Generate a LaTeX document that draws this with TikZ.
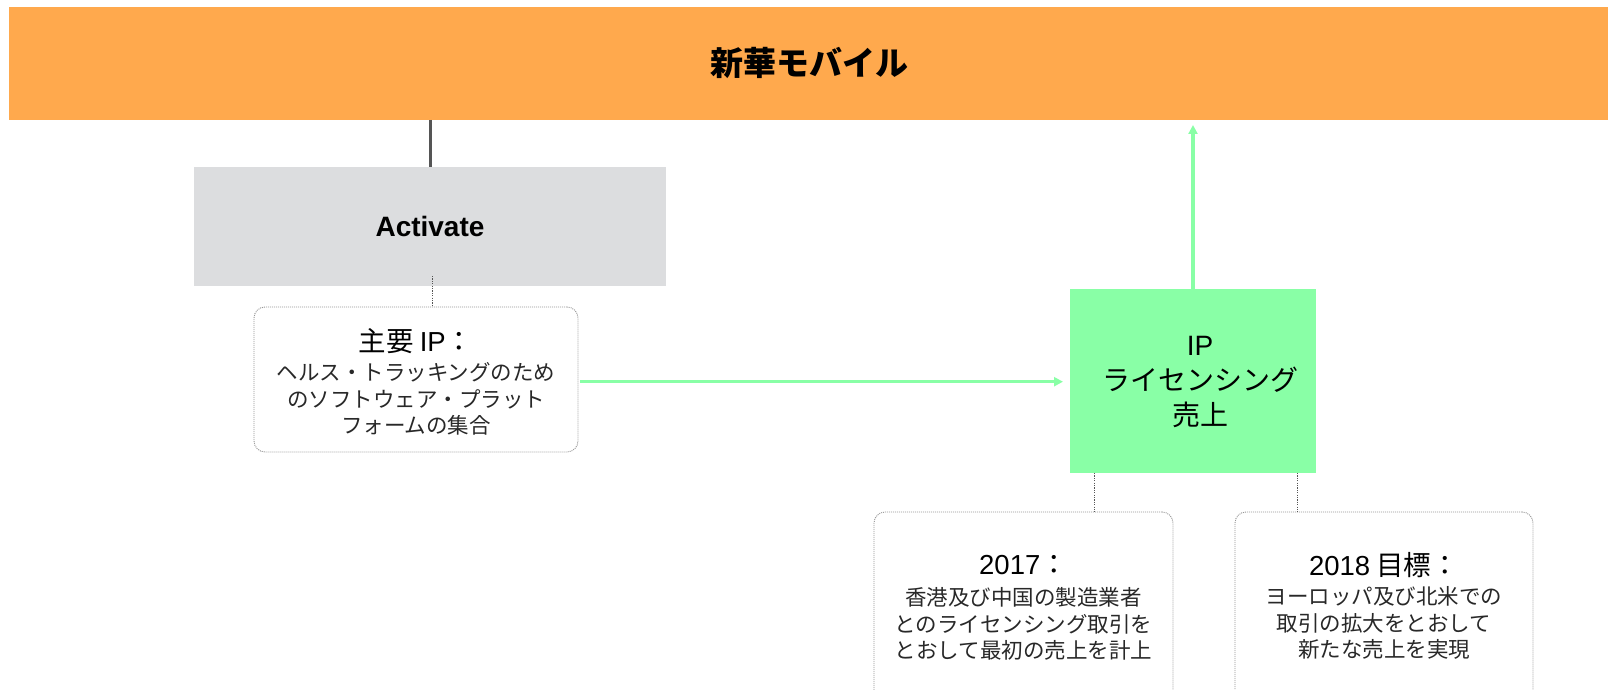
\documentclass[tikz,border=0pt]{standalone}
\usepackage{fontspec}
\setmainfont{Liberation Sans}
\newfontfamily\jp{Noto Sans CJK JP}
\usetikzlibrary{arrows.meta}
\definecolor{orangebar}{RGB}{255,169,77}
\definecolor{grayfill}{RGB}{220,221,223}
\definecolor{greenc}{RGB}{137,255,166}
\definecolor{bordergray}{RGB}{150,150,150}
\definecolor{textgray}{RGB}{40,40,40}
\definecolor{linegray}{RGB}{85,85,85}
\newcommand{\lat}[1]{{\rmfamily #1}}
\begin{document}
\begin{tikzpicture}[x=1pt,y=-1pt,
  fillbox/.style={inner sep=0pt, outer sep=0pt, draw=none},
  dotbox/.style={draw=bordergray, dash pattern=on 1pt off 1pt, line width=0.9pt, rounded corners=11pt, fill=white, inner sep=0pt, outer sep=0pt},
  dotline/.style={draw=linegray, dash pattern=on 1.2pt off 1.2pt, line width=0.9pt},
  garrow/.style={draw=greenc, line width=3.2pt, -{Triangle[length=9pt,width=9pt]}},
  grayline/.style={draw=linegray, line width=3pt},
  ttl/.style={font=\jp\fontsize{27.5}{32}\selectfont, text=black, inner sep=0pt},
  body/.style={font=\jp\fontsize{21.5}{26.5}\selectfont, text=textgray, align=center, inner sep=0pt}
]
\clip (0,0) rectangle (1612,690);
\fill[white] (0,0) rectangle (1612,690);

% top bar
\node[fillbox, fill=orangebar, minimum width=1599pt, minimum height=113pt] (bar) at (808.5,63.5) {};
\node[font=\jp\bfseries\fontsize{33}{36}\selectfont, inner sep=0pt] (bartext) at (809,63) {新華モバイル};

% Activate
\node[fillbox, fill=grayfill, minimum width=472pt, minimum height=119pt] (act) at (430,226.5) {};
\node[font=\bfseries\fontsize{28}{32}\selectfont, inner sep=0pt] (acttext) at (430,226.5) {Activate};
\draw[grayline] (bar.south -| act.north) -- (act.north);

% main IP box
\node[dotbox, minimum width=324pt, minimum height=145pt] (ipbox) at (416,379.5) {};
\node[ttl] (iptitle) at (416,341) {主要 \lat{IP}：};
\node[body] (ipbody) at (416,399) {ヘルス・トラッキングのため\\のソフトウェア・プラット\\フォームの集合};
\coordinate (actdot) at (432.7,276);
\draw[dotline] (actdot) -- (actdot |- ipbox.north);

% green box
\node[fillbox, fill=greenc, minimum width=246pt, minimum height=184pt] (gbox) at (1193,381) {};
\node[font=\jp\fontsize{28}{35}\selectfont, align=center, inner sep=0pt] (gtext) at (1200,382) {\lat{IP}\\ライセンシング\\売上};

% green arrows
\coordinate (hstart) at (580,381.7);
\draw[garrow] (hstart) -- (hstart -| gbox.west) [shorten >=7pt];
\draw[garrow, shorten >=5pt] (gbox.north) -- (gbox.north |- bar.south);

% bottom boxes
\node[dotbox, minimum width=299pt, minimum height=200pt] (b17) at (1023.5,612) {};
\node[ttl] (t17) at (1023.5,565) {\lat{2017}：};
\node[body] (t17b) at (1023.5,624) {香港及び中国の製造業者\\とのライセンシング取引を\\とおして最初の売上を計上};

\node[dotbox, minimum width=298pt, minimum height=200pt] (b18) at (1384,612) {};
\node[ttl] (t18) at (1384,565) {\lat{2018} 目標：};
\node[body] (t18b) at (1384,623) {ヨーロッパ及び北米での\\取引の拡大をとおして\\新たな売上を実現};

\coordinate (g1) at (1094,473);
\coordinate (g2) at (1297.3,473);
\draw[dotline] (g1) -- (g1 |- b17.north);
\draw[dotline] (g2) -- (g2 |- b18.north);
\end{tikzpicture}
\end{document}
